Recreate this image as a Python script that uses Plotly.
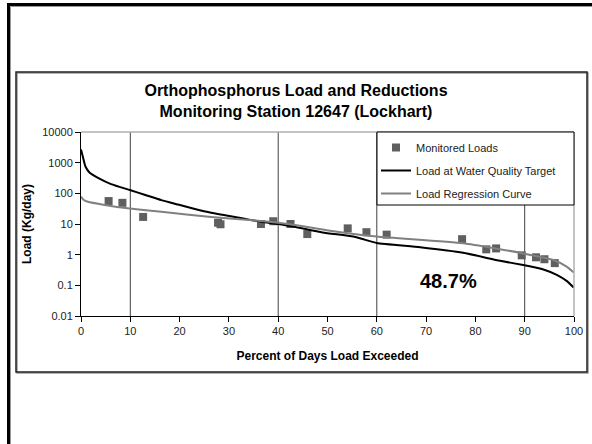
import plotly.graph_objects as go
import numpy as np

# ---------------- data ----------------
monitored_x = [5.6, 8.4, 12.6, 27.8, 28.3, 36.5, 39.0, 42.5, 45.9, 54.1, 57.9, 62.0,
               77.3, 82.2, 84.2, 89.4, 92.3, 94.0, 96.1]
monitored_y = [56, 49, 17, 11, 9.8, 10, 12.3, 10, 4.7, 7.2, 5.4, 4.5,
               3.2, 1.49, 1.6, 0.95, 0.82, 0.71, 0.53]

target_x = [0, 0.4, 0.9, 1.76, 3.45, 6.1, 9.9, 12.9, 16.3, 19.7, 23.1, 26.4, 29.8, 33.2,
            36.6, 40.0, 43.3, 49.0, 55.2, 57.5, 60.0, 68.8, 77.5, 85.0, 89.7, 93.8,
            96.5, 98.5, 100]
target_y = [2700, 1500, 750, 470, 320, 200, 128, 90, 60, 43, 31, 23.4, 18.6, 14.8,
            11.8, 10, 8.1, 5.3, 3.9, 3.1, 2.4, 1.74, 1.15, 0.63, 0.46, 0.33,
            0.22, 0.14, 0.084]

regress_x = [0, 0.5, 1.4, 4.8, 9.9, 16.3, 26.4, 36.6, 43.3, 49.8, 60.0, 77.5, 89.7,
             95.8, 98.5, 100]
regress_y = [78, 62, 53, 42, 32, 25, 17, 12.5, 9.3, 6.3, 3.9, 2.35, 1.1,
             0.67, 0.41, 0.26]

ref_lines_x = [10, 40, 60, 90]
y_tickvals = [0.01, 0.1, 1, 10, 100, 1000, 10000]
y_ticktext = ["0.01", "0.1", "1", "10", "100", "1000", "10000"]
x_tickvals = list(range(0, 101, 10))

reduction_label = "48.7%"
reduction_pos = (74.6, 0.138)

title_text = "Orthophosphorus Load and Reductions<br>Monitoring Station 12647 (Lockhart)"

# ---------------- layout geometry ----------------
W, H = 592, 444
ML, MR, MT, MB = 81, 18, 132, 128
PW, PH = W - ML - MR, H - MT - MB


def px(x):
    return (x - ML) / PW


def py(y):
    return (H - MB - y) / PH


FONT = "Arial, Liberation Sans, sans-serif"

fig = go.Figure()

fig.add_trace(go.Scatter(
    x=monitored_x, y=monitored_y, mode="markers", name="Monitored Loads",
    marker=dict(symbol="square", size=8, color="#5f5f5f"),
    legendgroup="a"))
fig.add_trace(go.Scatter(
    x=target_x, y=target_y, mode="lines", name="Load at Water Quality Target",
    line=dict(color="black", width=2, shape="spline", smoothing=0.5),
    legendgroup="b"))
fig.add_trace(go.Scatter(
    x=regress_x, y=regress_y, mode="lines", name="Load Regression Curve",
    line=dict(color="#808080", width=2, shape="spline", smoothing=0.5),
    legendgroup="c"))

shapes = []
# vertical reference lines
for xv in ref_lines_x:
    shapes.append(dict(type="line", xref="x", yref="paper", x0=xv, x1=xv, y0=0, y1=1,
                       line=dict(color="#404040", width=1), layer="below"))
# plot-area top / right border
shapes.append(dict(type="line", xref="paper", yref="paper", x0=0, x1=1, y0=1, y1=1,
                   line=dict(color="#b0b0b0", width=1.5)))
shapes.append(dict(type="line", xref="paper", yref="paper", x0=1, x1=1, y0=0, y1=1,
                   line=dict(color="#b0b0b0", width=1.5)))
# legend box
shapes.append(dict(type="rect", xref="paper", yref="paper",
                   x0=px(377), x1=px(574), y0=py(205), y1=py(132),
                   fillcolor="white", line=dict(color="black", width=1), layer="above"))
# inner chart frame (shadow + frame)
shapes.append(dict(type="rect", xref="paper", yref="paper",
                   x0=px(17), x1=px(588), y0=py(373), y1=py(73),
                   line=dict(color="#9a9a9a", width=1.5)))
shapes.append(dict(type="rect", xref="paper", yref="paper",
                   x0=px(16), x1=px(587), y0=py(372), y1=py(72),
                   line=dict(color="#222222", width=1.5)))
# outer slide frame
shapes.append(dict(type="rect", xref="paper", yref="paper",
                   x0=px(10.5), x1=px(700), y0=py(600), y1=py(6.5),
                   line=dict(color="#9a9a9a", width=1)))
shapes.append(dict(type="rect", xref="paper", yref="paper",
                   x0=px(8.5), x1=px(700), y0=py(600), y1=py(4.5),
                   line=dict(color="black", width=3)))

fig.update_layout(
    width=W, height=H,
    margin=dict(l=ML, r=MR, t=MT, b=MB, autoexpand=False),
    paper_bgcolor="white", plot_bgcolor="white",
    font=dict(family=FONT, color="#222222", size=11),
    title=dict(text=title_text, x=0.5, xref="container", xanchor="center",
               y=1 - 96 / H, yref="container", yanchor="middle",
               font=dict(family=FONT, size=16, color="black", weight="bold")),
    xaxis=dict(range=[0, 100], tickvals=x_tickvals, showgrid=False, zeroline=False,
               showline=True, linecolor="black", linewidth=1,
               ticks="outside", ticklen=5, tickcolor="black",
               tickfont=dict(size=11, color="#222222"),
               title=dict(text="Percent of Days Load Exceeded", standoff=15,
                          font=dict(size=12, color="black", weight="bold"))),
    yaxis=dict(type="log", range=[-2, 4], tickvals=y_tickvals, ticktext=y_ticktext,
               showgrid=False, zeroline=False,
               showline=True, linecolor="black", linewidth=1,
               ticks="outside", ticklen=5, tickcolor="black",
               tickfont=dict(size=11, color="#222222"),
               title=dict(text="Load (Kg/day)", standoff=8,
                          font=dict(size=12, color="black", weight="bold"))),
    legend=dict(x=px(376), y=py(133), xanchor="left", yanchor="top",
                bgcolor="rgba(0,0,0,0)", borderwidth=0, tracegroupgap=4,
                font=dict(size=11, color="#222222"), itemwidth=30),
    shapes=shapes,
    annotations=[dict(x=reduction_pos[0], y=np.log10(reduction_pos[1]), xref="x", yref="y",
                      text=reduction_label, showarrow=False,
                      font=dict(family=FONT, size=20, color="black", weight="bold"))],
)

fig.write_html("out.html", config={"displayModeBar": False},
               post_script="document.body.style.margin='0';document.body.style.padding='0';"
                           "document.documentElement.style.overflow='hidden';")
